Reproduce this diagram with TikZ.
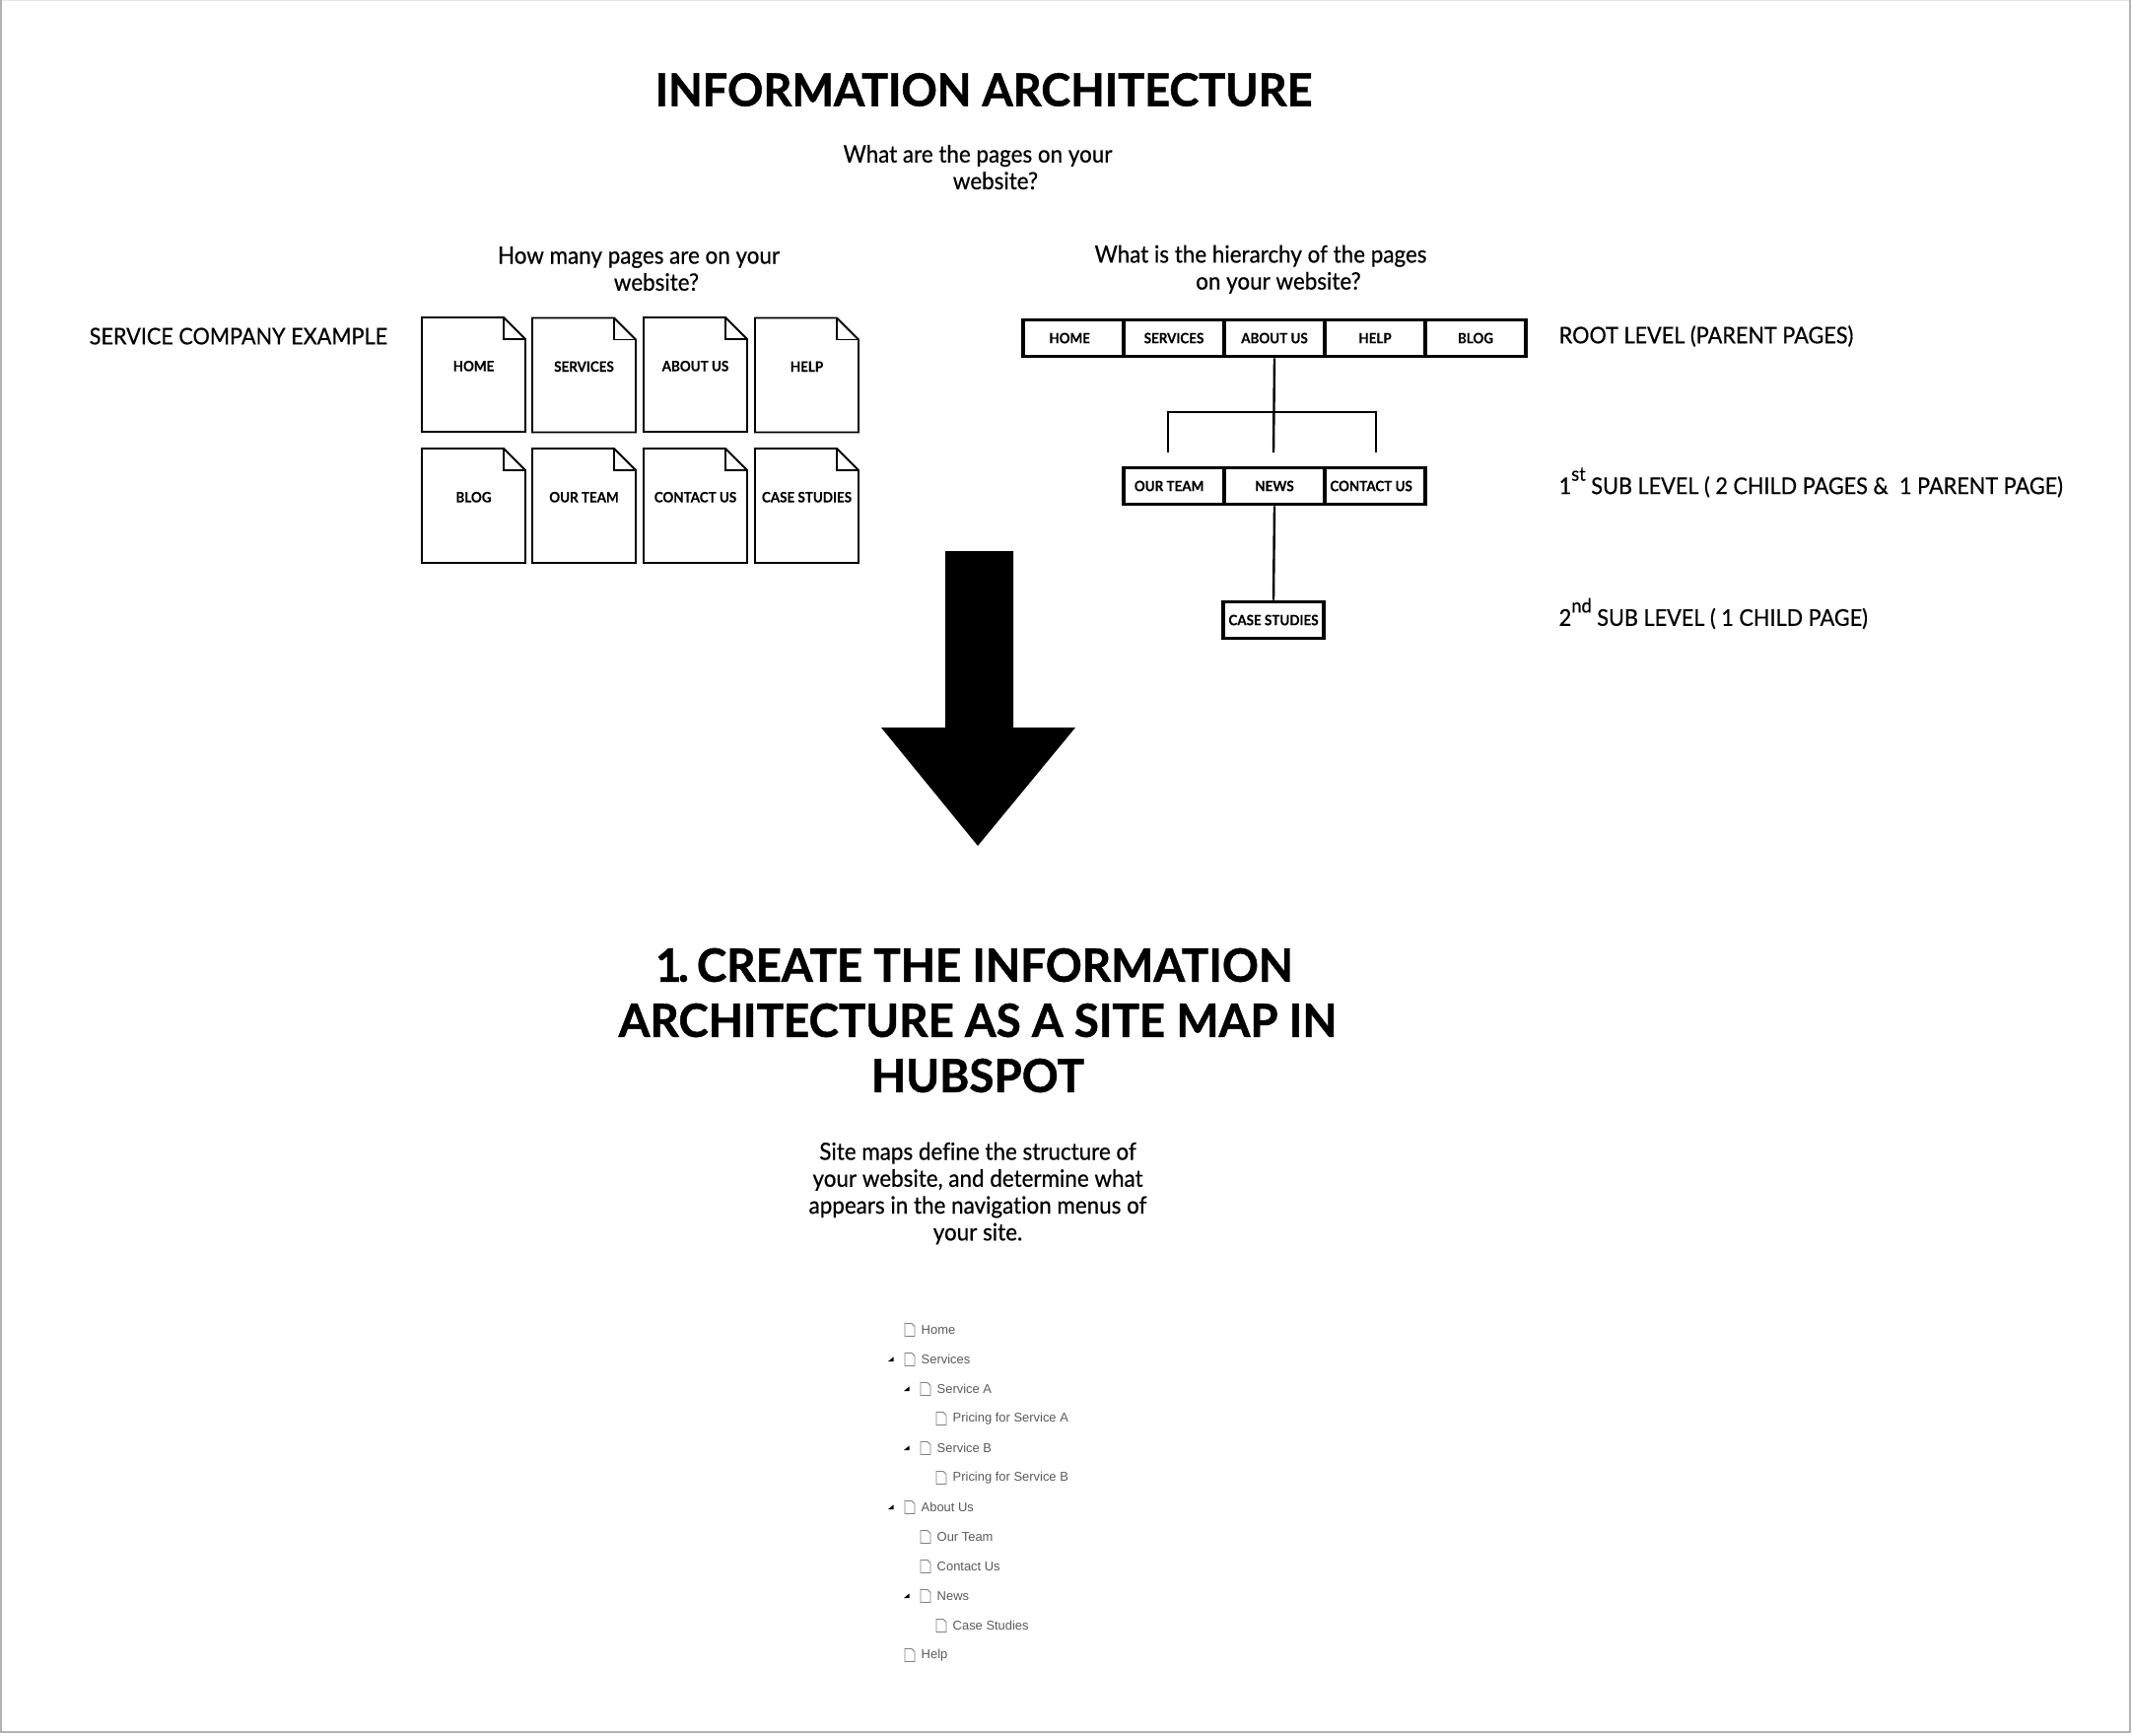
\documentclass[tikz,border=0pt]{standalone}
\usepackage{fontspec}
\setmainfont{Lato}
\newfontfamily\labelfont{Lato}[FakeStretch=0.93,FakeBold=0.5,Ligatures=NoCommon]
\newfontfamily\smallfont{Lato Bold}[FakeStretch=0.93,FakeBold=0.2,Ligatures=NoCommon]
\newfontfamily\titlefont{Lato Bold}[FakeStretch=0.985,FakeBold=1]
\newfontfamily\treefont{Liberation Sans}
\newcommand{\ordmark}[1]{\raisebox{0.58em}{\fontsize{5.6}{5}\selectfont #1}}
\tikzset{
  titletext/.style={font=\titlefont\fontsize{13}{15.93}\selectfont,align=center,inner sep=0pt},
  headtext/.style={font=\titlefont\fontsize{13.2}{15.93}\selectfont,align=center,inner sep=0pt},
  bodytext/.style={font=\labelfont\fontsize{6.85}{7.75}\selectfont,align=center,inner sep=0pt},
  sidetext/.style={font=\labelfont\fontsize{6.62}{7.7}\selectfont,anchor=west,inner sep=0pt},
  cell/.style={draw,line width=1pt,minimum width=1.02cm,minimum height=0.37cm,inner sep=0pt,font=\smallfont\fontsize{4.1}{4}\selectfont},
  joint/.style={line width=0.68pt},
  sheettext/.style={font=\smallfont\fontsize{4.1}{4}\selectfont,inner sep=0pt},
  pagesheet/.pic={
    \draw[line width=0.55pt] (0,0)--(83,0)--(105,22)--(105,116)--(0,116)--cycle;
    \draw[line width=0.55pt] (83,0)--(83,22)--(105,22);
    \node[sheettext] (-label) at (52.5,49.3) {#1};
  },
  leaf/.pic={
    \draw[gray,line width=0.25pt] (-5,-6.5)--(2,-6.5)--(5,-3.5)--(5,6.5)--(-5,6.5)--cycle;
  },
  fold/.pic={
    \fill (2.5,-2.5)--(2.5,2)--(-3,2)--cycle;
  },
  treetext/.style={font=\treefont\fontsize{3.68}{4}\selectfont,text=black!65,anchor=west,inner sep=0pt}
}
\begin{document}
\begin{tikzpicture}[x=0.01cm,y=-0.01cm]
\useasboundingbox (0,0) rectangle (2163,1760);
%Border
\draw[black!10,line width=0.3pt] (1,0.5)--(2162,0.5);
\draw[black!30,line width=0.5pt] (1,0)--(1,1757)--(2161,1757)--(2161,0);
%Header
\node[titletext] (title) at (998,91) {INFORMATION ARCHITECTURE};
\node[bodytext] (whatpages) at (992,169.6) {What are the pages on your\\\hspace*{10.2pt}website?};
\node[bodytext] (howmany) at (648,272.6) {How many pages are on your\\\hspace*{10.2pt}website?};
\node[bodytext] (hierarchy) at (1279,273.2) {What is the hierarchy of the pages\\\hspace*{10.2pt}on your website?};
\node[sidetext] (example) at (90,341) {SERVICE COMPANY EXAMPLE};
%Pages
\pic (phome) at (428,322) {pagesheet={HOME}};
\pic (pservices) at (540,322.5) {pagesheet={SERVICES}};
\pic (pabout) at (653,322) {pagesheet={ABOUT US}};
\pic (phelp) at (766,322.5) {pagesheet={HELP}};
\pic (pblog) at (428,455) {pagesheet={BLOG}};
\pic (pteam) at (540,455) {pagesheet={OUR TEAM}};
\pic (pcontact) at (653,455) {pagesheet={CONTACT US}};
\pic (pcase) at (766,455) {pagesheet={CASE STUDIES}};
%Root level
\node[cell] (rhome) at (1089,343) {HOME\hspace*{2.2pt}};
\node[cell] (rservices) at (1191,343) {SERVICES};
\node[cell] (rabout) at (1293,343) {ABOUT US};
\node[cell] (rhelp) at (1395,343) {HELP};
\node[cell] (rblog) at (1497,343) {BLOG};
\node[sidetext] (rootlabel) at (1581,341) {ROOT LEVEL (PARENT PAGES)};
%Sub level 1
\node[cell] (steam) at (1191,493) {OUR TEAM\hspace*{2.8pt}};
\node[cell] (snews) at (1293,493) {NEWS};
\node[cell] (scontact) at (1395,493) {CONTACT US\hspace*{2.2pt}};
\node[sidetext] (sublabel) at (1581,489.5) {1\ordmark{st} SUB LEVEL ( 2 CHILD PAGES \&\ \ 1 PARENT PAGE)};
\coordinate (jcentre) at (1292,459);
\coordinate (jleft) at (1185,418);
\coordinate (jleftend) at (1185,459);
\coordinate (jright) at (1396,418);
\coordinate (jrightend) at (1396,459);
\draw[joint] (rabout.south)--(jcentre);
\draw[joint] (jleftend)--(jleft)--(jright)--(jrightend);
%Sub level 2
\node[cell] (tcase) at (1292,629) {CASE STUDIES};
\node[sidetext] (tlabel) at (1581,622.5) {2\ordmark{nd} SUB LEVEL ( 1 CHILD PAGE)};
\draw[joint] (snews.south)--(tcase.north);
%Arrow
\fill (959,559)--(1028,559)--(1028,738)--(1091,738)--(992,858)--(894,738)--(959,738)--cycle;
%Heading
\node[headtext] (heading) at (992,1035) {\kern-2pt 1\kern-1pt.\hspace{2.3pt}CREATE THE INFORMATION\\ARCHITECTURE AS A SITE MAP IN\\HUBSPOT};
\node[bodytext] (sitemaps) at (992,1210.6) {Site maps define the structure of\\your website, and determine what\\appears in the navigation menus of\\your site.};
%Tree
\pic at (923,1349) {leaf}; \node[treetext] (home) at (934,1349) {Home};
\pic at (904,1379) {fold}; \pic at (923,1379) {leaf}; \node[treetext] (services) at (934,1379) {Services};
\pic at (920,1409) {fold}; \pic at (939,1409) {leaf}; \node[treetext] (servicea) at (950,1409) {Service A};
\pic at (955,1439) {leaf}; \node[treetext] (pricinga) at (966,1439) {Pricing for Service A};
\pic at (920,1469) {fold}; \pic at (939,1469) {leaf}; \node[treetext] (serviceb) at (950,1469) {Service B};
\pic at (955,1499) {leaf}; \node[treetext] (pricingb) at (966,1499) {Pricing for Service B};
\pic at (904,1529) {fold}; \pic at (923,1529) {leaf}; \node[treetext] (aboutus) at (934,1529) {About Us};
\pic at (939,1559) {leaf}; \node[treetext] (ourteam) at (950,1559) {Our Team};
\pic at (939,1589) {leaf}; \node[treetext] (contactus) at (950,1589) {Contact Us};
\pic at (920,1619) {fold}; \pic at (939,1619) {leaf}; \node[treetext] (news) at (950,1619) {News};
\pic at (955,1649) {leaf}; \node[treetext] (casestudies) at (966,1649) {Case Studies};
\pic at (923,1679) {leaf}; \node[treetext] (help) at (934,1679) {Help};
\end{tikzpicture}
\end{document}
